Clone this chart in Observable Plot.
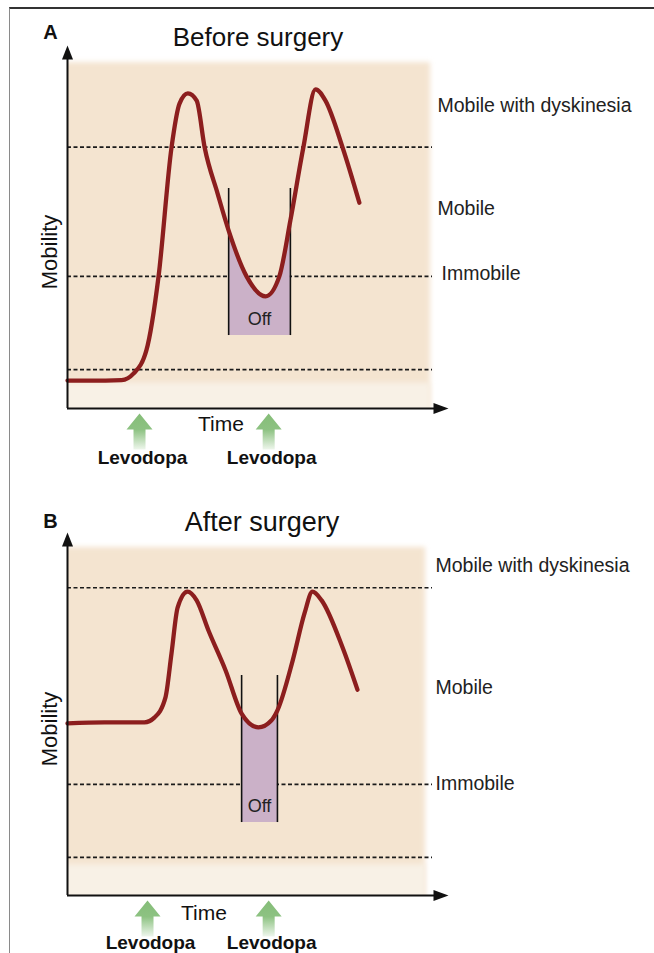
<!DOCTYPE html>
<html>
<head>
<meta charset="utf-8">
<script src="https://cdn.jsdelivr.net/npm/d3@7"></script>
<script src="https://cdn.jsdelivr.net/npm/@observablehq/plot@0.6"></script>
<style>
  html, body { margin: 0; padding: 0; background: #fff; }
  #wrap { position: relative; width: 654px; height: 953px; overflow: hidden; }
  #wrap svg { display: block; }
  #frame { position: absolute; left: 9px; top: 7px; right: -2px; bottom: -2px;
           border-left: 1.5px solid #8a8a8a; border-top: 2px solid #333; pointer-events: none; }
</style>
</head>
<body>
<div id="wrap"><div id="frame"></div></div>
<script>
// ---------- data ----------
const xDomain = [0, 100];            // time (arbitrary units)
const yDomain = [0, 100];            // mobility (arbitrary units)

// Panel A: before surgery
const timeA     = [0, 10, 14.2, 17.3, 20.7, 23.9, 27.3, 29.4, 31.6, 33.9, 36.0, 39.4, 42.3, 47.0, 52.0, 55.6, 58.5, 61.9, 65.1, 67.7, 72.2, 76.6];
const mobilityA = [7.7, 7.7, 7.8, 9.6, 16.0, 36.4, 71.9, 84.0, 86.8, 84.8, 71.9, 59.2, 49.0, 36.4, 30.9, 36.4, 51.8, 71.9, 87.9, 84.8, 71.9, 56.7];
const levelsA   = [72.0, 36.4, 10.7];
const labelYA   = [83.5, 55.1, 37.2];
const offA      = [42.3, 58.5];
const dosesA    = [18.9, 52.8];

// Panel B: after surgery
const timeB     = [0, 9.7, 20.2, 22.8, 25.7, 27.3, 28.9, 31.5, 33.9, 37.0, 41.5, 45.7, 50.1, 53.5, 55.1, 59.1, 62.2, 64.3, 66.7, 72.2, 76.1];
const mobilityB = [47.4, 47.7, 47.7, 49.0, 54.5, 66.7, 79.3, 83.7, 81.3, 73.0, 62.0, 50.1, 46.3, 48.2, 51.0, 64.7, 77.7, 83.7, 81.3, 68.3, 56.7];
const levelsB   = [84.8, 30.6, 10.5];
const labelYB   = [90.9, 57.3, 30.9];
const offB      = [45.7, 55.1];
const dosesB    = [21.0, 52.8];

const stateLabels = ["Mobile with dyskinesia", "Mobile", "Immobile"];
const offRange  = [20.1, 60.6];
const shadeTop  = [95.3, 95.9];
const shadeRight= [95.3, 94.0];
const lowBand   = [7.0, 8.5];
const levelEnd  = 95.8;

// ---------- symbols ----------
const headUp = { draw(c) { c.moveTo(0, 0); c.lineTo(5.5, 14); c.lineTo(-5.5, 14); c.closePath(); } };
const headRight = { draw(c) { c.moveTo(0, 0); c.lineTo(-15, -5.5); c.lineTo(-15, 5.5); c.closePath(); } };
const blockArrow = { draw(c) {
  c.moveTo(0, 0); c.lineTo(13, 16); c.lineTo(6, 16); c.lineTo(6, 36);
  c.lineTo(-6, 36); c.lineTo(-6, 16); c.lineTo(-13, 16); c.closePath(); } };

const soft = (index, scales, values, dims, ctx, next) => {
  const g = next(index, scales, values, dims, ctx);
  g.setAttribute("filter", "url(#softEdge)");
  return g;
};

const FONT = "'Liberation Sans', Arial, Helvetica, sans-serif";

function panel(cfg) {
  const pts = cfg.time.map((t, i) => ({t, m: cfg.mobility[i]}));
  const offPts = pts.filter(d => d.t >= cfg.off[0] - 1e-9 && d.t <= cfg.off[1] + 1e-9);
  const labels = stateLabels.map((s, i) => ({s, y: cfg.labelY[i]}));
  const svg = Plot.plot({
    width: 654, height: cfg.height,
    marginLeft: 67, marginRight: 206, marginTop: 45, marginBottom: cfg.height - 408,
    x: {domain: xDomain, axis: null},
    y: {domain: yDomain, axis: null},
    style: {fontFamily: FONT, background: "transparent", overflow: "visible"},
    marks: [
      // shaded background
      Plot.rect([0], {x1: -3, x2: cfg.shadeRight, y1: -3, y2: cfg.shadeTop, fill: "#f4e4d0", clip: "frame", render: soft}),
      Plot.rect([0], {x1: -3, x2: cfg.shadeRight, y1: -3, y2: cfg.lowBand, fill: "#f8f1e6", clip: "frame", render: soft}),
      // state thresholds
      Plot.ruleY(cfg.levels, {x1: xDomain[0], x2: levelEnd, stroke: "#1a1a1a", strokeWidth: 1.6, strokeDasharray: "4,2.5"}),
      // off period fill
      Plot.areaY(offPts, {x: "t", y1: offRange[0], y2: "m", fill: "#cbb1c8", curve: "monotone-x"}),
      Plot.ruleX(cfg.off, {y1: offRange[0], y2: offRange[1], stroke: "#111", strokeWidth: 1.6}),
      Plot.text(["Off"], {x: (cfg.off[0] + cfg.off[1]) / 2, y: offRange[0], dy: -16, fontSize: 18, fill: "#222"}),
      // mobility curve
      Plot.line(pts, {x: "t", y: "m", stroke: "#8c1e1e", strokeWidth: 4.3, curve: "monotone-x", strokeLinecap: "round", strokeLinejoin: "round"}),
      // axes
      Plot.ruleX([xDomain[0]], {y1: yDomain[0], y2: yDomain[1] - 3, stroke: "#111", strokeWidth: 2}),
      Plot.ruleY([yDomain[0]], {x1: xDomain[0], x2: xDomain[1] - 3, stroke: "#111", strokeWidth: 2}),
      Plot.dot([0], {x: xDomain[0], y: yDomain[1], symbol: headUp, fill: "#111", stroke: "none"}),
      Plot.dot([0], {x: xDomain[1], y: yDomain[0], symbol: headRight, fill: "#111", stroke: "none"}),
      // state labels
      Plot.text(labels.slice(0, 2), {y: "y", text: "s", frameAnchor: "right", dx: cfg.labelDx[0],
        textAnchor: "start", lineAnchor: "middle", fontSize: 19.5, fill: "#222"}),
      Plot.text(labels.slice(2), {y: "y", text: "s", frameAnchor: "right", dx: cfg.labelDx[1],
        textAnchor: "start", lineAnchor: "middle", fontSize: 19.5, fill: "#222"}),
      // titles and axis labels
      Plot.text([cfg.letter], {frameAnchor: "top-left", dx: -17, dy: cfg.letterDy, textAnchor: "middle", lineAnchor: "middle",
        fontSize: 20, fontWeight: "bold", fill: "#111"}),
      Plot.text([cfg.title], {frameAnchor: "top", dx: cfg.titleDx, dy: cfg.titleDy, textAnchor: "middle", lineAnchor: "middle",
        fontSize: cfg.titleSize, fill: "#111"}),
      Plot.text(["Mobility"], {frameAnchor: "left", dx: -18, dy: cfg.mobDy, rotate: -90, textAnchor: "middle", lineAnchor: "middle",
        fontSize: 22, fill: "#111"}),
      Plot.text(["Time"], {frameAnchor: "bottom", dx: cfg.timeDx, dy: cfg.timeDy, textAnchor: "middle", lineAnchor: "middle",
        fontSize: 21, fill: "#111"}),
      // levodopa doses
      Plot.dot(cfg.doses, {x: d => d, frameAnchor: "bottom", dy: 5, symbol: blockArrow, fill: "url(#levoGrad)", stroke: "none"}),
      Plot.text(cfg.doses, {x: d => d, frameAnchor: "bottom", dy: cfg.levoDy, dx: 3, text: () => "Levodopa", textAnchor: "middle", lineAnchor: "middle",
        fontSize: 19, fontWeight: "bold", fill: "#111"})
    ]
  });
  const defs = d3.select(svg).insert("defs", ":first-child");
  const lg = defs.append("linearGradient").attr("id", "levoGrad").attr("x1", 0).attr("y1", 0).attr("x2", 0).attr("y2", 1);
  lg.append("stop").attr("offset", "0").attr("stop-color", "#85bd78");
  lg.append("stop").attr("offset", "0.45").attr("stop-color", "#8dc282");
  lg.append("stop").attr("offset", "1").attr("stop-color", "#eef6ec");
  const f = defs.append("filter").attr("id", "softEdge").attr("x", "-10%").attr("y", "-10%").attr("width", "120%").attr("height", "120%");
  f.append("feGaussianBlur").attr("stdDeviation", 2.5);
  return svg;
}

const wrap = document.getElementById("wrap");
const frame = document.getElementById("frame");
wrap.insertBefore(panel({
  height: 487, time: timeA, mobility: mobilityA, levels: levelsA, labelY: labelYA, labelDx: [-11, -7],
  off: offA, doses: dosesA, shadeTop: shadeTop[0], shadeRight: shadeRight[0], lowBand: lowBand[0],
  letter: "A", letterDy: -13, title: "Before surgery", titleDx: 0, titleDy: -8, titleSize: 26,
  mobDy: 25, timeDx: -37, timeDy: 16, levoDy: 49
}), frame);
wrap.insertBefore(panel({
  height: 466, time: timeB, mobility: mobilityB, levels: levelsB, labelY: labelYB, labelDx: [-13, -13],
  off: offB, doses: dosesB, shadeTop: shadeTop[1], shadeRight: shadeRight[1], lowBand: lowBand[1],
  letter: "B", letterDy: -11, title: "After surgery", titleDx: 4, titleDy: -10, titleSize: 27,
  mobDy: 15, timeDx: -54, timeDy: 18, levoDy: 47
}), frame);
</script>
</body>
</html>
